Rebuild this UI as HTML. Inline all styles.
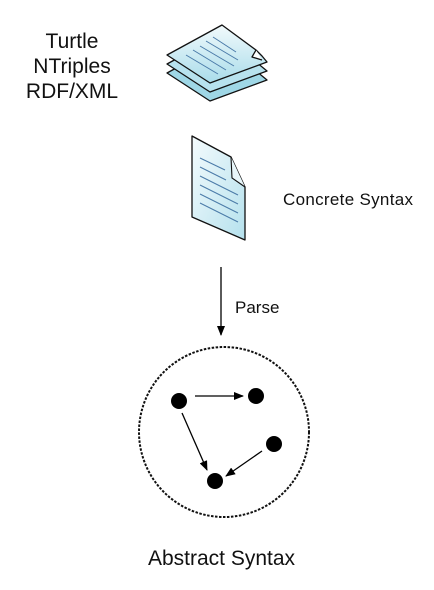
<!DOCTYPE html>
<html><head><meta charset="utf-8"><style>html,body{margin:0;padding:0;background:#fff}svg{display:block}</style></head>
<body>
<svg width="434" height="590" viewBox="0 0 434 590" xmlns="http://www.w3.org/2000/svg" font-family="Liberation Sans, Arial, sans-serif">
<defs>
<linearGradient id="g" x1="0" y1="0" x2="0" y2="1"><stop offset="0" stop-color="#f2fafc"/><stop offset="1" stop-color="#a9dcea"/></linearGradient>
<linearGradient id="g2" x1="0" y1="0" x2="1" y2="1"><stop offset="0" stop-color="#f4fbfd"/><stop offset="1" stop-color="#b5e1ed"/></linearGradient>
<marker id="a" markerWidth="10" markerHeight="8" refX="9" refY="4" orient="auto" markerUnits="userSpaceOnUse"><path d="M0,0 L10,4 L0,8 z" fill="#000"/></marker>
</defs>
<g stroke="#111" stroke-width="1.3" stroke-linejoin="round">
<path d="M222,43 L267,80 L210,101 L167,73 z" fill="#9fd7e6"/>
<path d="M222,34 L267,71 L210,92 L167,64 z" fill="#b7e2ee"/>
<path d="M222,25 L256,50 L262,56 L267,62 L210,83 L167,55 z" fill="url(#g)"/>
<path d="M256,50 L252,57 L262,60" fill="#fff"/>
</g>
<g stroke="#4a7aa8" stroke-width="1">
<line x1="213" y1="37" x2="236" y2="52"/><line x1="206" y1="41" x2="238" y2="60"/><line x1="200" y1="46" x2="234" y2="66"/><line x1="193" y1="50" x2="226" y2="70"/><line x1="186" y1="55" x2="218" y2="74"/>
</g>
<path d="M192,136 L231,157 L245,187 L245,240 L192,217 z" fill="url(#g2)" stroke="#111" stroke-width="1.3" stroke-linejoin="round"/>
<path d="M231,157 L232,178 L245,187" fill="#e8f6fa" stroke="#111" stroke-width="1.1"/>
<g stroke="#4a7aa8" stroke-width="1">
<line x1="200" y1="158" x2="225" y2="170"/><line x1="200" y1="167" x2="226" y2="180"/><line x1="200" y1="176" x2="238" y2="195"/><line x1="200" y1="185" x2="238" y2="204"/><line x1="200" y1="194" x2="238" y2="213"/><line x1="200" y1="203" x2="238" y2="222"/>
</g>
<g font-size="21" text-anchor="middle" fill="#111">
<text x="72" y="48">Turtle</text><text x="72" y="73">NTriples</text><text x="72" y="98">RDF/XML</text>
</g>
<text x="283" y="205" font-size="17" textLength="130" fill="#111">Concrete Syntax</text>
<line x1="221" y1="267" x2="221" y2="335" stroke="#000" stroke-width="1.3" marker-end="url(#a)"/>
<text x="235" y="313" font-size="17" fill="#111">Parse</text>
<circle cx="224" cy="432" r="85" fill="none" stroke="#111" stroke-width="2" stroke-dasharray="2.5,1.5"/>
<g fill="#000">
<circle cx="179" cy="401" r="8"/><circle cx="256" cy="396" r="8"/><circle cx="274" cy="444" r="8"/><circle cx="215" cy="481" r="8"/>
</g>
<g stroke="#000" stroke-width="1.3">
<line x1="195" y1="396" x2="243" y2="396" marker-end="url(#a)"/>
<line x1="182" y1="413" x2="207" y2="470" marker-end="url(#a)"/>
<line x1="262" y1="451" x2="226" y2="476" marker-end="url(#a)"/>
</g>
<text x="148" y="565" font-size="21" textLength="147" fill="#111">Abstract Syntax</text>
</svg>
</body></html>
